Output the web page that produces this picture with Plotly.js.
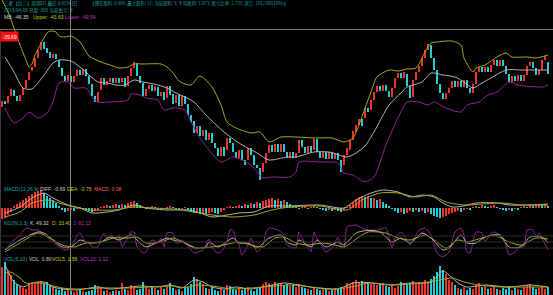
<!DOCTYPE html>
<html>
<head>
<meta charset="utf-8">
<script src="https://cdn.plot.ly/plotly-3.0.1.min.js"></script>
<style>
html,body{margin:0;padding:0;background:#000;}
#chart{width:553px;height:295px;}
</style>
</head>
<body>
<div id="chart"></div>
<script>
// ---------- DATA ----------
const openP = [
-51.1,-50.5,-50.7,-50.0,-49.4,-50.0,-50.5,-49.9,-49.2,-48.4,
-47.5,-47.1,-46.2,-45.4,-44.6,-45.2,-45.6,-46.2,-45.8,-46.4,
-47.2,-48.0,-48.5,-48.0,-48.6,-48.0,-47.4,-47.9,-47.3,-48.0,
-48.8,-50.0,-50.6,-49.4,-48.2,-48.9,-48.6,-48.2,-48.7,-48.2,
-48.6,-48.2,-49.0,-48.0,-47.2,-46.7,-48.0,-48.7,-50.0,-49.3,
-48.9,-49.5,-49.1,-50.0,-49.6,-50.2,-49.0,-49.8,-50.7,-49.9,
-51.0,-50.0,-50.8,-51.9,-52.5,-53.7,-53.0,-54.0,-53.4,-54.4,
-53.7,-54.7,-55.2,-56.0,-55.1,-55.4,-54.2,-54.7,-55.6,-56.2,
-55.4,-56.4,-56.4,-55.2,-55.9,-56.9,-57.2,-57.6,-56.7,-55.7,
-54.9,-55.6,-54.8,-55.6,-54.8,-55.6,-56.2,-55.6,-56.2,-55.7,
-54.4,-55.1,-55.7,-55.0,-55.4,-54.3,-55.6,-56.2,-55.6,-56.3,
-55.6,-56.3,-55.7,-56.4,-56.9,-55.9,-55.4,-54.4,-53.6,-52.9,
-52.3,-52.2,-51.2,-51.4,-50.4,-49.6,-49.0,-49.5,-48.9,-49.5,
-50.1,-49.2,-48.2,-47.7,-48.2,-47.8,-49.0,-50.1,-48.4,-47.6,
-47.0,-46.2,-45.4,-44.9,-46.2,-47.4,-48.8,-49.7,-50.3,-49.7,
-49.2,-48.5,-49.1,-48.5,-49.1,-48.4,-49.2,-49.7,-48.8,-47.6,
-47.1,-47.6,-47.1,-47.6,-46.9,-46.4,-47.0,-46.4,-47.0,-47.8,
-48.6,-48.0,-48.5,-47.9,-48.5,-47.9,-47.0,-46.6,-47.2,-47.9,
-47.4,-46.4,-46.6];
const closeP = [
-50.5,-50.8,-50.0,-49.3,-50.0,-50.5,-49.9,-49.2,-48.4,-47.6,
-47.1,-46.2,-45.4,-44.6,-45.3,-45.7,-46.2,-45.8,-46.3,-47.1,
-48.0,-48.5,-47.9,-48.6,-48.0,-47.4,-47.9,-47.3,-48.0,-48.8,
-50.0,-50.6,-49.6,-48.2,-48.9,-48.5,-48.2,-48.7,-48.2,-48.7,
-48.2,-49.1,-48.0,-47.2,-46.6,-48.0,-48.7,-50.0,-49.3,-48.9,
-49.5,-49.0,-50.0,-49.6,-50.4,-49.0,-49.9,-50.8,-49.9,-51.0,
-50.0,-50.8,-51.9,-52.6,-53.7,-53.0,-54.0,-53.4,-54.4,-53.7,
-54.7,-55.2,-56.0,-55.1,-56.0,-54.2,-54.7,-55.6,-56.2,-55.4,
-56.4,-56.9,-55.2,-55.9,-56.9,-57.2,-58.4,-56.7,-55.7,-54.9,
-55.6,-54.8,-55.6,-54.8,-55.6,-56.2,-55.6,-56.2,-55.7,-54.4,
-55.1,-55.7,-55.0,-55.6,-54.3,-55.6,-56.2,-55.6,-56.3,-55.6,
-56.3,-55.7,-56.4,-57.6,-55.9,-55.2,-54.4,-53.5,-52.9,-52.3,
-53.0,-51.2,-51.6,-50.4,-49.6,-49.0,-49.5,-48.9,-49.5,-50.1,
-49.2,-48.2,-47.7,-48.2,-47.6,-49.0,-50.2,-48.4,-47.6,-47.0,
-46.2,-45.4,-44.8,-46.2,-47.4,-48.8,-49.7,-50.3,-49.7,-49.2,
-48.5,-49.1,-48.5,-49.1,-48.4,-49.2,-49.7,-48.8,-47.6,-47.1,
-47.6,-47.1,-47.6,-46.9,-46.4,-47.0,-46.4,-47.0,-47.8,-48.6,
-48.0,-48.5,-47.9,-48.5,-47.9,-47.0,-46.6,-47.2,-47.9,-47.4,
-46.4,-46.0,-47.8];

const upperIdx = [0,2,4,6,8,9,10,11,14,15,16,18,19,21,23,26,29,33,36,39,42,44,47,53,55,57,59,61,63,66,70,73,75,78,83,86,89,93,98,104,110,114,117,119,121,123,125,129,132,135,138,141,143,145,150,153,154,157,158,161,165,168,170,175,178,182];
const upperVal = [-40.4,-41.6,-43.2,-44.9,-46.4,-47.1,-46.8,-45.9,-44.2,-43.7,-43.5,-43.6,-44.0,-44.1,-44.0,-44.6,-46.0,-46.6,-46.9,-47.2,-47.1,-46.8,-46.8,-46.8,-47.1,-47.7,-48.5,-48.8,-48.9,-48.0,-49.1,-50.9,-52.6,-53.2,-53.7,-53.6,-54.6,-54.1,-54.1,-54.2,-54.2,-54.6,-54.2,-52.9,-51.2,-49.6,-48.1,-47.4,-47.5,-47.3,-47.2,-45.6,-44.7,-44.6,-44.5,-44.9,-46.2,-47.6,-47.2,-46.9,-46.1,-45.7,-46.1,-46.1,-46.2,-45.9];

const midIdx = [1,4,7,10,14,17,19,23,26,29,32,35,38,41,44,47,52,55,58,61,64,68,74,79,85,89,95,98,104,109,115,118,121,124,129,133,135,140,143,147,151,154,157,160,163,168,173,178,182];
const midVal = [-46.1,-47.6,-49.2,-49.3,-47.9,-46.7,-46.4,-46.5,-47.1,-47.9,-48.6,-48.7,-48.9,-48.9,-48.4,-48.6,-48.9,-49.2,-49.7,-50.1,-50.6,-51.9,-53.6,-54.7,-55.7,-56.4,-56.1,-56.1,-55.6,-55.6,-56.1,-55.7,-55.0,-53.6,-50.9,-49.7,-49.1,-48.6,-47.7,-47.9,-48.1,-48.6,-49.2,-48.7,-48.2,-47.4,-47.4,-47.4,-47.4];

const lowerIdx = [1,4,7,9,12,15,17,19,22,24,28,30,32,36,42,43,46,48,52,54,57,61,63,66,69,73,77,83,87,90,96,98,99,106,112,114,117,121,124,128,132,135,139,142,144,148,153,155,159,162,165,169,172,180,182];
const lowerVal = [-51.2,-52.7,-52.2,-51.6,-52.2,-51.7,-50.6,-48.7,-48.6,-49.2,-49.2,-50.1,-50.6,-50.6,-50.4,-49.8,-49.9,-50.2,-50.4,-51.4,-51.2,-51.4,-52.6,-54.2,-55.4,-56.6,-56.1,-56.9,-58.2,-58.1,-58.1,-57.6,-56.6,-56.6,-56.7,-57.7,-57.9,-58.6,-58.1,-54.9,-52.2,-50.6,-50.6,-50.9,-50.6,-51.2,-51.6,-50.9,-50.6,-49.9,-49.6,-48.6,-48.9,-49.1,-48.9];

const macdHist = [
-1.1,-1.0,-0.7,-0.4,0.2,0.4,0.6,0.8,1.0,1.2,1.4,1.6,1.7,1.8,
1.5,1.2,1.0,0.8,0.5,0.2,-0.2,-0.4,-0.3,-0.2,
-0.3,-0.1,0.1,-0.1,-0.2,-0.3,-0.4,-0.3,-0.2,0.1,
0.2,0.3,0.2,0.3,0.4,0.3,0.4,0.3,0.5,0.6,0.7,0.5,0.3,
0.1,-0.1,0.1,0.2,0.1,-0.1,-0.2,-0.1,0.1,0.2,0.1,-0.1,-0.2,-0.1,0.1,-0.2,
-0.4,-0.5,-0.4,-0.6,-0.5,-0.6,-0.5,-0.4,-0.5,-0.6,-0.4,-0.2,0.1,0.2,0.1,
0.2,0.3,0.2,0.4,0.3,0.5,0.4,0.6,0.5,0.7,0.8,
0.9,1.0,0.8,0.9,0.7,0.8,0.6,0.4,
0.2,0.1,-0.1,0.1,0.2,-0.1,0.1,0.2,0.1,-0.1,
-0.2,-0.3,-0.2,-0.3,-0.2,-0.3,-0.4,-0.2,0.1,
0.3,0.6,0.9,1.1,1.2,1.1,1.2,1.0,1.0,0.8,0.9,0.6,0.4,
0.2,-0.1,-0.3,-0.5,-0.4,-0.6,-0.5,-0.3,-0.4,-0.2,-0.4,-0.3,-0.5,-0.4,
-0.6,-0.8,-0.9,-1.0,-0.9,-0.8,-0.6,
-0.5,-0.4,-0.3,-0.4,-0.2,-0.1,-0.2,
0.1,0.2,0.1,0.3,0.2,0.1,0.2,0.3,0.1,-0.1,-0.2,-0.3,-0.2,-0.3,-0.1,-0.2,0.1,0.2,0.1,0.3,0.2,0.3,0.4,0.3,0.4,0.2];

const diffIdx = [1,6,10,14,17,22,26,30,35,39,44,48,55,62,66,70,75,79,84,89,95,106,114,118,123,127,132,136,140,144,147,150,154,158,165,169,176,182];
const diffVal = [-0.5,0.1,1.0,1.5,1.0,0.3,0.0,-0.5,-0.4,-0.2,0.3,0.0,-0.2,-0.2,-0.5,-0.9,-0.7,-0.5,-0.4,0.2,0.2,0.3,0.0,0.8,1.5,1.8,1.6,1.1,1.3,1.1,0.5,0.1,0.2,0.5,0.5,0.3,0.3,0.4];
const deaIdx = [1,6,10,15,19,24,30,37,44,50,57,64,70,77,84,90,96,106,115,120,126,132,138,143,148,154,160,167,173,182];
const deaVal = [-0.9,-0.4,0.5,0.8,0.5,0.1,-0.2,-0.2,0.1,0.0,-0.1,-0.4,-0.7,-0.9,-0.7,-0.2,0.1,0.2,-0.2,0.8,1.5,1.5,1.1,1.3,0.6,0.3,0.4,0.5,0.3,0.3];

const kIdx = [1,6,12,14,17,20,23,26,29,33,36,39,43,46,48,52,55,57,61,64,68,69,72,77,79,82,85,89,93,95,98,99,103,105,108,112,114,118,122,126,130,133,136,140,143,147,149,153,155,158,161,166,169,173,176,180,182];
const kVal = [10,60,100,95,60,25,25,60,45,50,75,60,85,45,25,50,70,60,45,20,25,50,25,70,45,45,20,70,85,50,35,60,25,60,25,50,35,95,108,100,50,70,45,95,70,10,20,85,45,45,75,85,25,25,75,75,45];
const dIdx = [1,6,12,16,20,24,28,33,37,42,45,48,53,57,61,65,70,74,79,83,87,91,94,98,102,107,111,114,119,122,128,132,136,141,144,148,152,155,160,164,169,173,178,182];
const dVal = [0,45,95,70,35,25,45,50,70,70,75,45,50,70,45,20,25,35,50,35,25,70,75,45,35,45,35,25,75,100,95,70,60,85,60,20,60,50,70,85,50,35,70,65];
const jIdx = [1,4,6,8,10,12,13,15,17,19,21,23,25,26,28,29,30,32,33,34,35,36,38,39,40,42,43,44,45,47,48,50,52,53,54,55,57,58,59,60,61,63,64,67,69,70,72,73,75,76,77,78,79,80,82,83,84,85,87,88,89,92,94,95,98,99,100,102,103,104,105,107,108,110,112,113,114,115,118,120,122,125,128,129,130,131,133,134,136,138,139,141,143,145,147,149,151,153,154,155,156,158,160,161,163,164,166,168,169,171,173,174,175,177,178,179,180,182];
const jVal = [10,60,85,120,110,110,100,75,50,25,10,20,85,95,45,50,25,25,70,95,70,85,70,85,25,75,100,100,25,-5,0,60,45,70,25,95,95,45,45,60,50,10,-5,10,65,20,-5,0,50,110,110,60,35,-15,35,70,35,0,35,100,120,110,85,35,20,100,70,20,0,100,70,20,0,20,75,25,20,125,135,120,110,110,120,70,20,70,100,85,35,85,110,120,85,-5,-25,0,100,120,85,0,-5,100,95,50,95,100,85,35,-15,0,35,25,110,110,75,95,70,10];

const volume = [
5.6,6.6,5.0,4.0,3.0,2.2,1.8,1.4,1.2,2.2,
2.4,2.2,2.6,2.8,2.4,2.6,2.0,1.6,1.2,1.0,
1.4,0.8,1.0,0.8,0.6,0.8,1.2,0.8,0.6,0.8,
1.0,2.0,1.8,1.6,0.8,1.0,0.6,0.8,1.0,0.8,
2.4,1.2,1.0,2.0,1.6,1.0,1.2,2.6,1.6,1.2,
1.8,1.4,1.0,1.6,1.2,1.8,2.4,1.4,1.0,1.2,
0.8,1.4,1.6,2.2,3.6,3.2,2.6,2.2,1.4,1.2,
1.6,1.0,0.8,1.2,1.0,2.0,1.8,1.2,1.0,1.4,
1.0,1.2,1.6,1.0,0.8,1.2,1.4,2.2,2.6,2.4,
2.0,2.6,2.2,2.4,2.0,2.2,1.8,2.0,1.6,2.2,
1.6,1.4,1.2,1.0,1.6,1.2,1.0,1.4,1.2,0.8,
1.0,1.4,1.2,1.6,1.4,2.4,2.2,2.6,3.0,2.4,
2.8,2.6,2.4,2.2,2.4,2.0,2.2,2.4,1.8,1.6,
2.0,1.4,1.8,2.6,2.2,2.0,2.4,2.8,2.2,2.6,
2.4,3.0,2.6,3.2,3.8,4.6,5.8,5.0,4.2,3.0,
2.6,2.0,1.4,1.2,1.6,1.0,1.4,1.2,2.0,2.4,
1.6,1.8,1.2,1.4,1.8,1.2,1.0,1.4,1.2,1.8,
1.0,1.4,1.2,1.0,1.6,2.0,2.2,1.6,1.2,1.4,
1.8,1.2,1.6];
const vol5Idx = [1,4,7,10,14,17,20,25,32,36,46,52,56,60,64,67,70,74,78,83,90,94,99,105,112,117,122,129,136,143,147,149,152,155,161,169,176,182];
const vol5Val = [6.0,2.6,1.6,2.4,2.6,1.6,1.2,1.0,1.6,1.2,1.8,1.6,2.0,1.4,3.0,2.6,1.6,1.2,1.6,1.2,2.0,2.4,2.0,1.4,1.2,2.4,2.5,2.0,2.4,2.6,4.8,4.0,2.4,1.6,2.0,1.6,2.0,1.6];
const vol10Idx = [1,3,6,8,13,16,20,25,33,42,49,57,61,65,70,77,83,91,97,103,111,118,122,131,140,146,150,154,159,166,175,182];
const vol10Val = [4.4,4.6,3.4,2.4,2.4,2.0,1.4,1.2,1.4,1.4,1.6,1.8,1.5,2.0,1.8,1.2,1.4,1.8,2.0,1.6,1.2,1.8,2.4,2.0,2.4,3.0,3.4,2.6,2.0,1.6,1.6,1.6];

// ---------- COLORS ----------
const UP = '#f0322c', DN = '#22cdd4';
const GRAY = '#b4b4b4', OLIVE = '#a8a818', PURPLE = '#9a1f9a', TEAL = '#1ca3a3';

// ---------- TRACES ----------
const idx = openP.map((_, i) => i);
const upI = idx.filter(i => closeP[i] >= openP[i]);
const dnI = idx.filter(i => closeP[i] < openP[i]);

function bodyTrace(list, color) {
  return {type: 'bar', x: list, base: list.map(i => openP[i]),
          y: list.map(i => closeP[i] - openP[i]),
          marker: {color: color, line: {width: 0}}, width: 0.72,
          xaxis: 'x', yaxis: 'y', hoverinfo: 'skip'};
}
function lineTrace(xs, ys, color, axis, w, sm) {
  return {type: 'scatter', mode: 'lines', x: xs, y: ys,
          line: {color: color, width: w || 1, shape: 'spline', smoothing: sm === undefined ? 0.7 : sm},
          xaxis: 'x', yaxis: axis, hoverinfo: 'skip'};
}

const macdColors = macdHist.map((v, i) => (i === 0 || v >= macdHist[i - 1]) ? UP : DN);
const volColors = idx.map(i => closeP[i] >= openP[i] ? UP : DN);

const traces = [
  lineTrace(upperIdx, upperVal, OLIVE, 'y'),
  lineTrace(midIdx, midVal, GRAY, 'y'),
  lineTrace(lowerIdx, lowerVal, PURPLE, 'y'),
  bodyTrace(upI, UP),
  bodyTrace(dnI, DN),
  {type: 'bar', x: idx, y: macdHist, marker: {color: macdColors, line: {width: 0}}, width: 0.6,
   xaxis: 'x', yaxis: 'y2', hoverinfo: 'skip'},
  lineTrace(diffIdx, diffVal, GRAY, 'y2'),
  lineTrace(deaIdx, deaVal, OLIVE, 'y2'),
  lineTrace(jIdx, jVal, PURPLE, 'y3', 1, 0.5),
  lineTrace(kIdx, kVal, GRAY, 'y3'),
  lineTrace(dIdx, dVal, OLIVE, 'y3'),
  {type: 'bar', x: idx, y: volume, marker: {color: volColors, line: {width: 0}}, width: 0.62,
   xaxis: 'x', yaxis: 'y4', hoverinfo: 'skip'},
  lineTrace(vol5Idx, vol5Val, GRAY, 'y4'),
  lineTrace(vol10Idx, vol10Val, OLIVE, 'y4')
];

// ---------- LAYOUT ----------
const W = 553, H = 295;
const px = x => x / W, py = y => 1 - y / H;
const ax = {visible: false, showgrid: false, zeroline: false, fixedrange: true};
const CJK = 'Noto Sans CJK SC, sans-serif';
const LAT = 'Liberation Sans, Arial, sans-serif';

function label(text, x, y, color, size, fam) {
  return {text: text, x: px(x), y: py(y), xref: 'paper', yref: 'paper',
          xanchor: 'left', yanchor: 'middle', showarrow: false,
          font: {family: fam || LAT, size: size || 5, color: color}};
}

const annotations = [
  label('三星【综三】周期D1 最后 0/0[54日]', 2, 3.5, TEAL, 4.6, CJK),
  label('【理论盈利: 0.986; 最大盈利: 11; 当前盈利: 3; 平均盈利: 1.073; 盈亏比率: 2.797; 其它: 181/100(18%)】', 88, 3.5, TEAL, 4.4, CJK),
  label('2019/04/08 开盘: 808 当前盈亏: 3', 2, 10, TEAL, 4.6, CJK),
  label('MB: -46.35', 2, 16.5, '#d0d0d0'),
  label('Upper: -43.63', 31, 16.5, '#c8c820'),
  label('Lower: -49.54', 63, 16.5, '#c030c0'),
  label('MACD(12,26,9)', 2, 189, TEAL),
  label('DIFF: -0.69', 38, 189, '#d0d0d0'),
  label('DEA: -0.75', 65, 189, '#c8c820'),
  label('MACD: 0.08', 92, 189, '#ff5a5a'),
  label('KDJ(9,3,3)', 2, 223, TEAL),
  label('K: 49.32', 28, 223, '#d0d0d0'),
  label('D: 33.40', 50, 223, '#c8c820'),
  label('J: 81.12', 71, 223, '#c030c0'),
  label('VOL(5,10)', 2, 259, TEAL),
  label('VOL: 0.80', 27, 259, '#d0d0d0'),
  label('VOL5: 1.58', 50, 259, '#c8c820'),
  label('VOL10: 1.12', 78, 259, '#c030c0'),
  {text: '-39.69', x: 0, y: py(31), xref: 'paper', yref: 'paper', xanchor: 'left', yanchor: 'top',
   showarrow: false, bgcolor: '#ff1010', borderpad: 1.5,
   font: {family: LAT, size: 5, color: '#ffffff'}}
];

const shapes = [
  {type: 'line', xref: 'paper', yref: 'paper', x0: px(70.5), x1: px(70.5), y0: 0, y1: 1,
   line: {color: '#8a8a8a', width: 1}},
  {type: 'line', xref: 'paper', yref: 'paper', x0: 0, x1: 1, y0: py(29.5), y1: py(29.5),
   line: {color: '#6e6e6e', width: 1}},
  {type: 'line', xref: 'paper', yref: 'paper', x0: px(0.5), x1: px(0.5), y0: 0, y1: py(29.5),
   line: {color: '#3a3a3a', width: 1}}
];
[80, 50, 20].forEach(v => shapes.push({type: 'line', xref: 'paper', yref: 'y3', x0: 0, x1: 1, y0: v, y1: v,
  line: {color: '#2e2e2e', width: 1}}));

const layout = {
  width: W, height: H, margin: {l: 0, r: 0, t: 0, b: 0, pad: 0},
  paper_bgcolor: '#000', plot_bgcolor: '#000', showlegend: false,
  barmode: 'overlay', bargap: 0,
  xaxis: Object.assign({}, ax, {range: [-2 / 3, (W - 2) / 3], domain: [0, 1]}),
  yaxis: Object.assign({}, ax, {domain: [1 - 183 / H, 1], range: [-58.7, -40.4]}),
  yaxis2: Object.assign({}, ax, {domain: [1 - 220 / H, 1 - 184 / H], range: [-1.2, 2.4], anchor: 'x'}),
  yaxis3: Object.assign({}, ax, {domain: [1 - 257 / H, 1 - 221 / H], range: [-25, 155], anchor: 'x'}),
  yaxis4: Object.assign({}, ax, {domain: [0, 1 - 258 / H], range: [0, 7.4], anchor: 'x'}),
  annotations: annotations, shapes: shapes
};

Plotly.newPlot('chart', traces, layout, {staticPlot: true, displayModeBar: false});
</script>
</body>
</html>
